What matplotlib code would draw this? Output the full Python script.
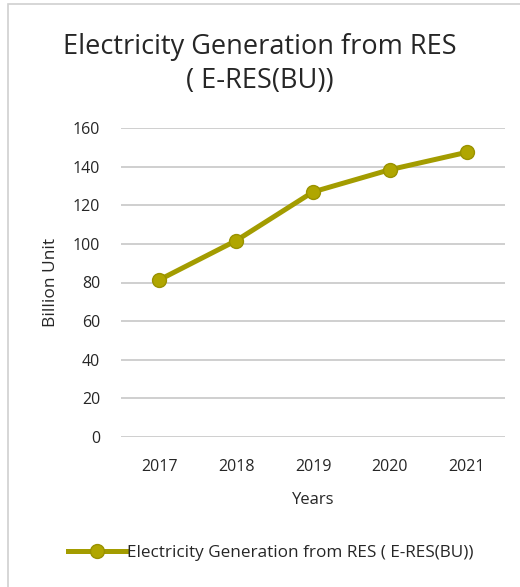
import matplotlib.pyplot as plt
from matplotlib.patches import Rectangle

years = ["2017", "2018", "2019", "2020", "2021"]
generation_bu = [81.4, 101.7, 126.9, 138.4, 147.4]
yticks = [0, 20, 40, 60, 80, 100, 120, 140, 160]

plt.rcParams["font.family"] = ["Open Sans", "DejaVu Sans"]
olive = "#A39C00"
marker_fill = "#B0A600"
text_color = "#262626"

fig = plt.figure(figsize=(5.2, 5.87), dpi=100)
ax = fig.add_axes([121 / 520, 1 - 437 / 587, 384 / 520, 309 / 587])

x = range(len(years))
ax.plot(x, generation_bu, color=olive, linewidth=3.6, marker="o", markersize=10,
        markerfacecolor=marker_fill, markeredgecolor="#9A9200", markeredgewidth=1,
        label="Electricity Generation from RES ( E-RES(BU))", zorder=3)

ax.set_xlim(-0.5, len(years) - 0.5)
ax.set_ylim(0, 160)
ax.set_yticks(yticks)
ax.set_xticks(list(x))
ax.set_xticklabels(years)
ax.grid(axis="y", color="#CFCFCF", linewidth=1.4)
ax.set_axisbelow(True)
for s in ax.spines.values():
    s.set_visible(False)
ax.tick_params(length=0, labelsize=11.5, colors=text_color)
ax.tick_params(axis="x", pad=16)
ax.tick_params(axis="y", pad=15)

ax.set_xlabel("Years", fontsize=12, color=text_color, labelpad=12)
ax.set_ylabel("Billion Unit", fontsize=12.5, color=text_color, labelpad=10)

fig.text(0.5, 1 - 64 / 587, "Electricity Generation from RES\n( E-RES(BU))",
         ha="center", va="center", fontsize=19.5, color=text_color, linespacing=1.25)

fig.legend(loc="center", bbox_to_anchor=(0.52, 1 - 553 / 587), frameon=False,
           fontsize=12.3, labelcolor=text_color, handlelength=3.4, handletextpad=0.05)

fig.patches.append(Rectangle((8 / 520, -0.01), 1.0, 1 - 4 / 587 + 0.01,
                             transform=fig.transFigure, fill=False,
                             edgecolor="#D0D0D0", linewidth=1.2))

fig.savefig("out.png", dpi=100)
